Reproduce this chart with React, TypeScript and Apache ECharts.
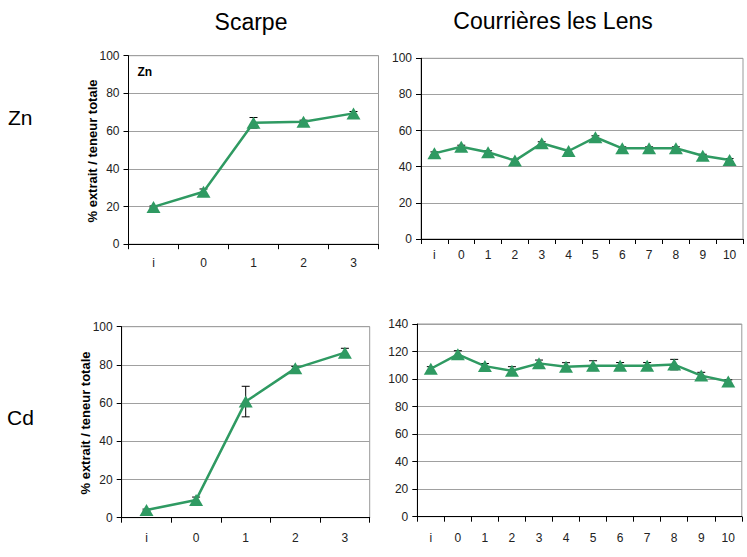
import React, { useEffect, useRef } from "react";
import * as echarts from "echarts";

const catsScarpe = ["i", "0", "1", "2", "3"];
const catsLens = ["i", "0", "1", "2", "3", "4", "5", "6", "7", "8", "9", "10"];

const znScarpe = [19.8, 27.8, 64.4, 65.0, 69.4];
const znScarpeErr = [0.5, 1.5, 2.8, 0.8, 1.0];
const znLens = [47.4, 51.1, 48.0, 43.4, 53.0, 48.7, 56.3, 50.2, 50.2, 50.2, 46.1, 43.7];
const znLensErr = [0.8, 0.8, 0.8, 0.8, 0.8, 0.8, 0.8, 0.8, 0.8, 0.8, 0.8, 0.8];
const cdScarpe = [4.0, 9.3, 60.8, 78.2, 86.4];
const cdScarpeErr = [0.5, 1.5, 8.0, 1.0, 2.3];
const cdLens = [107.5, 118.0, 109.4, 106.0, 111.4, 109.0, 109.7, 109.7, 109.7, 110.5, 102.5, 98.2];
const cdLensErr = [1.5, 2.6, 1.9, 3.0, 2.4, 2.9, 3.6, 2.3, 2.3, 3.8, 2.4, 1.2];

const yMaxes = [100, 100, 100, 140];

const GREEN = "#2f9a62";
const FONT = "'Liberation Sans', Arial, sans-serif";

export default function App() {
  const ref = useRef<HTMLDivElement>(null);
  useEffect(() => {
    if (!ref.current) return;
    const chart = echarts.init(ref.current, undefined, { renderer: "svg" });
    const grids = [
      { left: 128.5, top: 55.7, width: 250, height: 188.5 },
      { left: 421, top: 58.3, width: 322, height: 180.7 },
      { left: 121.7, top: 326.7, width: 248, height: 191 },
      { left: 417.3, top: 324, width: 324.5, height: 192.7 },
    ];
    const labelMargins = [13, 10, 14, 15];
    const cats = [catsScarpe, catsLens, catsScarpe, catsLens];
    const vals = [znScarpe, znLens, cdScarpe, cdLens];
    const errs = [znScarpeErr, znLensErr, cdScarpeErr, cdLensErr];

    const errRender = (params: any, api: any) => {
      const x = api.value(0);
      const lo = api.coord([x, api.value(1)]);
      const hi = api.coord([x, api.value(2)]);
      const hw = 4;
      const st = { stroke: "#000", lineWidth: 1 };
      return {
        type: "group",
        children: [
          { type: "line", shape: { x1: lo[0], y1: lo[1], x2: hi[0], y2: hi[1] }, style: st },
          { type: "line", shape: { x1: hi[0] - hw, y1: hi[1], x2: hi[0] + hw, y2: hi[1] }, style: st },
          { type: "line", shape: { x1: lo[0] - hw, y1: lo[1], x2: lo[0] + hw, y2: lo[1] }, style: st },
        ],
      };
    };

    const series: any[] = [];
    vals.forEach((v, i) => {
      series.push({
        type: "custom",
        xAxisIndex: i,
        yAxisIndex: i,
        z: 2,
        renderItem: errRender,
        encode: { x: 0, y: [1, 2] },
        data: v.map((val, k) => [k, val - errs[i][k], val + errs[i][k]]),
      });
      series.push({
        type: "line",
        xAxisIndex: i,
        yAxisIndex: i,
        z: 3,
        data: v,
        symbol: "triangle",
        symbolSize: [14, 12],
        itemStyle: { color: GREEN },
        lineStyle: { color: GREEN, width: 2.5 },
      });
    });

    chart.setOption({
      animation: false,
      grid: grids.map((g) => ({
        ...g,
        show: true,
        borderColor: "#999",
        borderWidth: 1,
        backgroundColor: "transparent",
      })),
      xAxis: cats.map((c, i) => ({
        type: "category",
        gridIndex: i,
        data: c,
        boundaryGap: true,
        axisLine: { lineStyle: { color: "#000", width: 1 } },
        axisTick: { show: true, length: 5, inside: false, lineStyle: { color: "#000" } },
        axisLabel: { color: "#222", fontSize: 12, fontFamily: FONT, margin: labelMargins[i], interval: 0 },
        splitLine: { show: false },
      })),
      yAxis: yMaxes.map((m, i) => ({
        type: "value",
        gridIndex: i,
        min: 0,
        max: m,
        interval: 20,
        axisLine: { show: true, lineStyle: { color: "#000", width: 1 } },
        axisTick: { show: true, length: 5, lineStyle: { color: "#000" } },
        axisLabel: { color: "#222", fontSize: 12, fontFamily: FONT, margin: 9 },
        splitLine: { show: true, lineStyle: { color: "#a0a0a0", width: 1 } },
      })),
      graphic: [
        { type: "text", x: 251, y: 22, style: { text: "Scarpe", font: `23px ${FONT}`, fill: "#000", align: "center", verticalAlign: "middle" } },
        { type: "text", x: 553, y: 21, style: { text: "Courrières les Lens", font: `23px ${FONT}`, fill: "#000", align: "center", verticalAlign: "middle" } },
        { type: "text", x: 8, y: 117, style: { text: "Zn", font: `21px ${FONT}`, fill: "#000", align: "left", verticalAlign: "middle" } },
        { type: "text", x: 7, y: 417, style: { text: "Cd", font: `21px ${FONT}`, fill: "#000", align: "left", verticalAlign: "middle" } },
        { type: "text", x: 137.5, y: 72, style: { text: "Zn", font: `bold 12px ${FONT}`, fill: "#000", align: "left", verticalAlign: "middle" } },
        { type: "text", x: 92, y: 151, rotation: Math.PI / 2, style: { text: "% extrait / teneur totale", font: `bold 13px ${FONT}`, fill: "#000", align: "center", verticalAlign: "middle" } },
        { type: "text", x: 85, y: 423, rotation: Math.PI / 2, style: { text: "% extrait / teneur totale", font: `bold 13px ${FONT}`, fill: "#000", align: "center", verticalAlign: "middle" } },
      ],
      series,
    });
    return () => chart.dispose();
  }, []);
  return (
    <div
      ref={ref}
      style={{ position: "fixed", left: 0, top: 0, width: 747, height: 557, background: "#fff" }}
    />
  );
}
